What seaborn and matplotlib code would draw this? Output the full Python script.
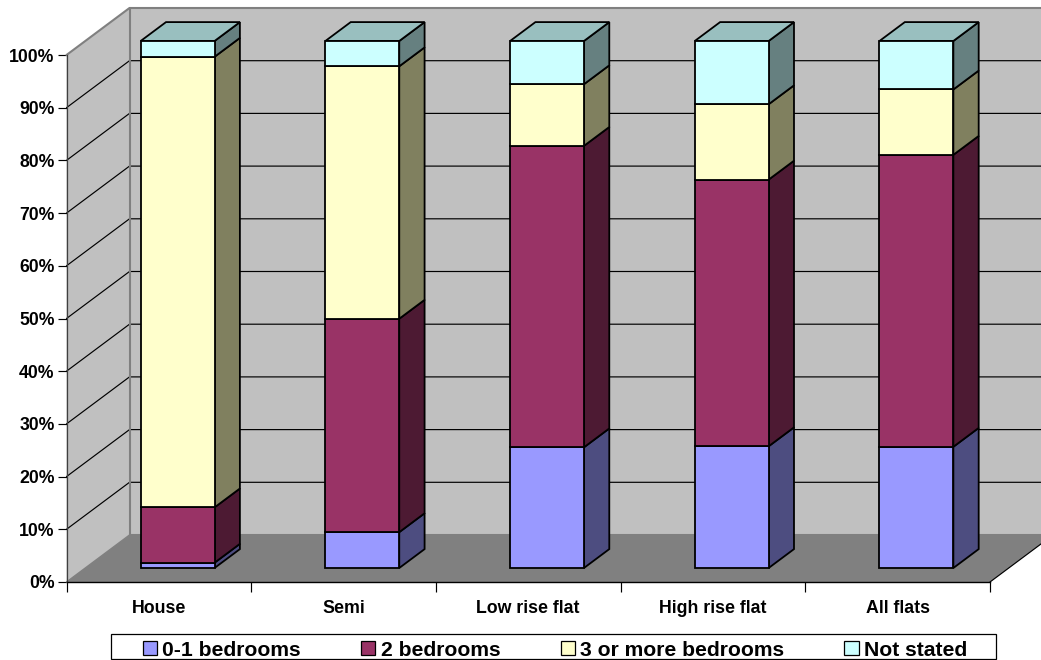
import matplotlib
matplotlib.use("Agg")
import matplotlib.pyplot as plt
import seaborn as sns
import pandas as pd
from matplotlib.patches import Polygon, Patch, Rectangle
from matplotlib.transforms import Affine2D

categories = ["House", "Semi", "Low rise flat", "High rise flat", "All flats"]
series_names = ["0-1 bedrooms", "2 bedrooms", "3 or more bedrooms", "Not stated"]
bed_0_1 = [1.0, 6.8, 22.9, 23.1, 23.0]
bed_2 = [10.5, 40.5, 57.2, 50.6, 55.4]
bed_3plus = [85.5, 47.9, 11.7, 14.3, 12.4]
not_stated = [3.0, 4.8, 8.2, 12.0, 9.2]
y_ticks = [0, 10, 20, 30, 40, 50, 60, 70, 80, 90, 100]

front = ["#9999FF", "#993366", "#FFFFCC", "#CCFFFF"]
side = ["#4D4D80", "#4D1A33", "#80805F", "#668080"]
top = ["#7373BF", "#732650", "#BFBF99", "#99BFBF"]

W, H = 1041, 660
sns.set_style("white")
plt.rcParams["font.family"] = ["Liberation Sans", "DejaVu Sans"]
plt.rcParams["font.weight"] = "bold"
plt.rcParams["text.color"] = "black"
plt.rcParams["xtick.labelcolor"] = "black"
plt.rcParams["ytick.labelcolor"] = "black"

fig = plt.figure(figsize=(W / 100, H / 100), dpi=100, facecolor="white")
ax = fig.add_axes([66.5 / W, 1 - 582 / H, (990 - 66.5) / W, (582 - 55) / H])
ax.patch.set_visible(False)

# oblique projection: depth 1 = back wall
DX, DY = 63 / 184.7, 47 / 5.27
BAR_D0, BAR_D1 = 0.298, 0.70
BAR_W = 0.4


def P(x, y, d):
    return (x + d * DX, y + d * DY)


def poly(pts, fc, ec="none", lw=0.8, z=1):
    ax.add_patch(Polygon(pts, closed=True, facecolor=fc, edgecolor=ec, linewidth=lw,
                         zorder=z, clip_on=False, joinstyle="miter"))


xl, xr = -0.5, len(categories) - 0.5
poly([P(xl, 0, 0), P(xl, 100, 0), P(xl, 100, 1), P(xl, 0, 1)], "#C0C0C0", z=0.5)
poly([P(xl, 0, 1), P(xl, 100, 1), P(xr, 100, 1), P(xr, 0, 1)], "#C0C0C0", z=0.5)
poly([P(xl, 0, 0), P(xr, 0, 0), P(xr, 0, 1), P(xl, 0, 1)], "#808080", z=0.6)

for t in y_ticks[1:-1]:
    pts = [P(xl, t, 0), P(xl, t, 1), P(xr, t, 1)]
    ax.plot(*zip(*pts), color="black", lw=0.85, zorder=0.8, clip_on=False)
# wall edges
ax.plot(*zip(P(xl, 100, 0), P(xl, 100, 1), P(xr, 100, 1)), color="#808080", lw=1.5, zorder=0.9, clip_on=False)
ax.plot(*zip(P(xl, 100, 1), P(xl, 0, 1), P(xr, 0, 1)), color="#808080", lw=1.5, zorder=0.9, clip_on=False)
ax.plot(*zip(P(xl, 0, 0), P(xl, 0, 1)), color="#808080", lw=1.0, zorder=0.9, clip_on=False)
ax.plot(*zip(P(xr, 0, 0), P(xr, 0, 1)), color="black", lw=0.85, zorder=0.9, clip_on=False)

# bars
values = [bed_0_1, bed_2, bed_3plus, not_stated]
bottoms = [0.0] * len(categories)
shift = Affine2D().translate(BAR_D0 * DX, BAR_D0 * DY)
for k, name in enumerate(series_names):
    df = pd.DataFrame({"cat": categories, "val": values[k]})
    n0 = len(ax.patches)
    sns.barplot(data=df, x="cat", y="val", color=front[k], saturation=1, width=BAR_W,
                bottom=bottoms, edgecolor="black", linewidth=1.3, ax=ax, zorder=3, errorbar=None)
    for r in ax.patches[n0:]:
        r.set_transform(shift + ax.transData)
        r.set_clip_on(False)
    for i in range(len(categories)):
        x0, x1 = i - BAR_W / 2, i + BAR_W / 2
        b, t = bottoms[i], bottoms[i] + values[k][i]
        poly([P(x1, b, BAR_D0), P(x1, b, BAR_D1), P(x1, t, BAR_D1), P(x1, t, BAR_D0)],
             side[k], ec="black", lw=1.3, z=2)
        if k == len(series_names) - 1:
            poly([P(x0, t, BAR_D0), P(x1, t, BAR_D0), P(x1, t, BAR_D1), P(x0, t, BAR_D1)],
                 top[k], ec="black", lw=1.3, z=2)
    bottoms = [a + b for a, b in zip(bottoms, values[k])]

ax.set_xlim(xl, xr)
ax.set_ylim(0, 100)
ax.set_xlabel("")
ax.set_ylabel("")
ax.set_xticks([i - 0.5 for i in range(len(categories) + 1)], labels=[])
ax.set_xticks(range(len(categories)), labels=categories, minor=True)
ax.set_yticks(y_ticks, labels=[f"{v}%" for v in y_ticks])
ax.tick_params(axis="x", which="major", length=7.2, width=0.85, color="black", bottom=True)
ax.tick_params(axis="x", which="minor", length=0, pad=12.7, labelsize=12.8)
ax.tick_params(axis="y", length=6.5, width=0.85, color="black", left=True, pad=2, labelsize=12.7)
for s in ["top", "right"]:
    ax.spines[s].set_visible(False)
ax.spines["left"].set_color("#404040")
ax.spines["left"].set_linewidth(0.9)
ax.spines["bottom"].set_color("black")
ax.spines["bottom"].set_linewidth(1.0)
for s in ax.spines.values():
    s.set_zorder(1.5)

# legend
fig.add_artist(Rectangle((111 / W, 1 - 659 / H), (996 - 111) / W, 25 / H, transform=fig.transFigure,
                         facecolor="white", edgecolor="black", linewidth=0.9))
handles = [Patch(facecolor=c, edgecolor="black", linewidth=0.9) for c in front]
leg = fig.legend(handles, series_names, ncol=4, loc="center", bbox_to_anchor=(555 / W, 1 - 650 / H),
                 frameon=False, fontsize=15.2, handlelength=0.68, handleheight=0.68,
                 handletextpad=0.25, columnspacing=2.85, borderpad=0, borderaxespad=0)

fig.savefig("out.png", dpi=100, facecolor="white")
